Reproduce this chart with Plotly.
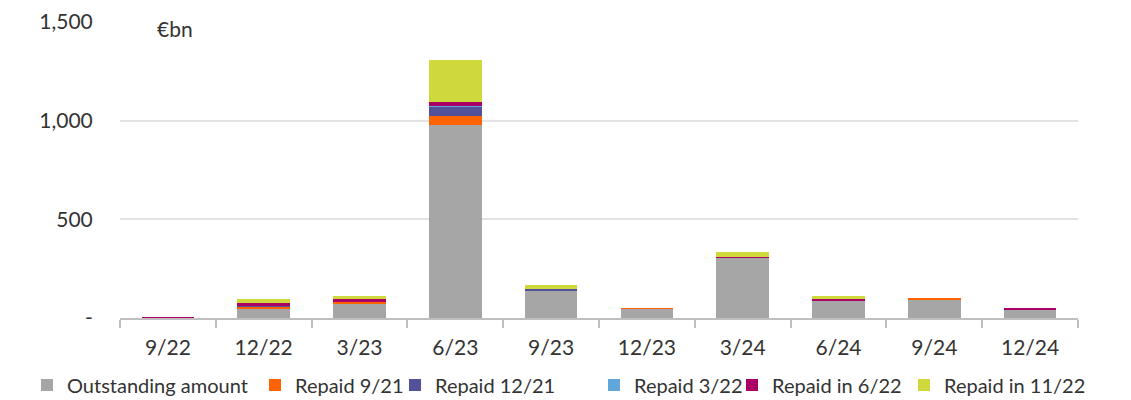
import plotly.graph_objects as go

quarters = ['9/22', '12/22', '3/23', '6/23', '9/23', '12/23', '3/24', '6/24', '9/24', '12/24']

outstanding = [2, 48, 71, 979, 140, 46, 306, 86, 95, 45]
repaid_9_21 = [0, 10, 15, 47, 0, 2, 0, 0, 2, 0]
repaid_12_21 = [0, 4, 0, 46, 6, 0, 0, 0, 0, 0]
repaid_3_22 = [0, 0, 0, 4, 0, 0, 0, 0, 0, 0]
repaid_6_22 = [1, 12, 10, 20, 0, 0, 2, 12, 0, 4]
repaid_11_22 = [0, 20, 15, 211, 22, 0, 24, 13, 0, 0]

series = [
    ('Outstanding amount', outstanding, '#A6A6A6'),
    ('Repaid 9/21', repaid_9_21, '#FF6200'),
    ('Repaid 12/21', repaid_12_21, '#525199'),
    ('Repaid 3/22', repaid_3_22, '#60A6DA'),
    ('Repaid in 6/22', repaid_6_22, '#AB0066'),
    ('Repaid in 11/22', repaid_11_22, '#D0D93C'),
]

# left edge (px) of each legend swatch
legend_px = [41, 269, 409, 608, 746, 918]

font_family = 'Lato, Open Sans, sans-serif'
W, H = 1123, 392  # page body has an 8px margin
plot_h = 296

fig = go.Figure()
layout_legends = {}
for i, (name, vals, color) in enumerate(series):
    key = 'legend' if i == 0 else 'legend%d' % (i + 1)
    fig.add_trace(go.Bar(name=name, x=quarters, y=vals, legend=key,
                         marker=dict(color=color, line=dict(width=0))))
    layout_legends[key] = dict(
        orientation='h', xref='container', yref='paper',
        x=(legend_px[i] - 8 - 14) / W, xanchor='left',
        y=-(377 - 310) / plot_h, yanchor='middle',
        font=dict(size=20), itemwidth=30, bgcolor='rgba(0,0,0,0)')

fig.update_layout(
    barmode='stack',
    bargap=0.45,
    width=W, height=H,
    margin=dict(l=112, r=53, t=14, b=82, autoexpand=False),
    paper_bgcolor='white', plot_bgcolor='white',
    font=dict(family=font_family, size=21, color='#333333'),
    showlegend=True,
    xaxis=dict(type='category', showline=True, linecolor='#BFBFBF', linewidth=2,
               ticks='outside', tickson='boundaries', ticklen=8,
               tickcolor='#BFBFBF', tickwidth=2, showgrid=False,
               ticklabelstandoff=10, tickfont=dict(size=21)),
    yaxis=dict(range=[0, 1500], tickvals=[0, 500, 1000, 1500],
               ticktext=['-', '500', '1,000', '1,500'],
               showgrid=True, gridcolor='#E3E3E3', gridwidth=1.5,
               zeroline=False, showline=False,
               ticks='outside', ticklen=22, tickcolor='rgba(0,0,0,0)',
               tickfont=dict(size=21)),
    annotations=[dict(text='€bn', x=(147 - 112) / 958, xref='paper',
                      y=1500, yref='y', yshift=8,
                      showarrow=False, xanchor='left', yanchor='top',
                      font=dict(size=21))],
    **layout_legends,
)

fig.write_html('out.html')
